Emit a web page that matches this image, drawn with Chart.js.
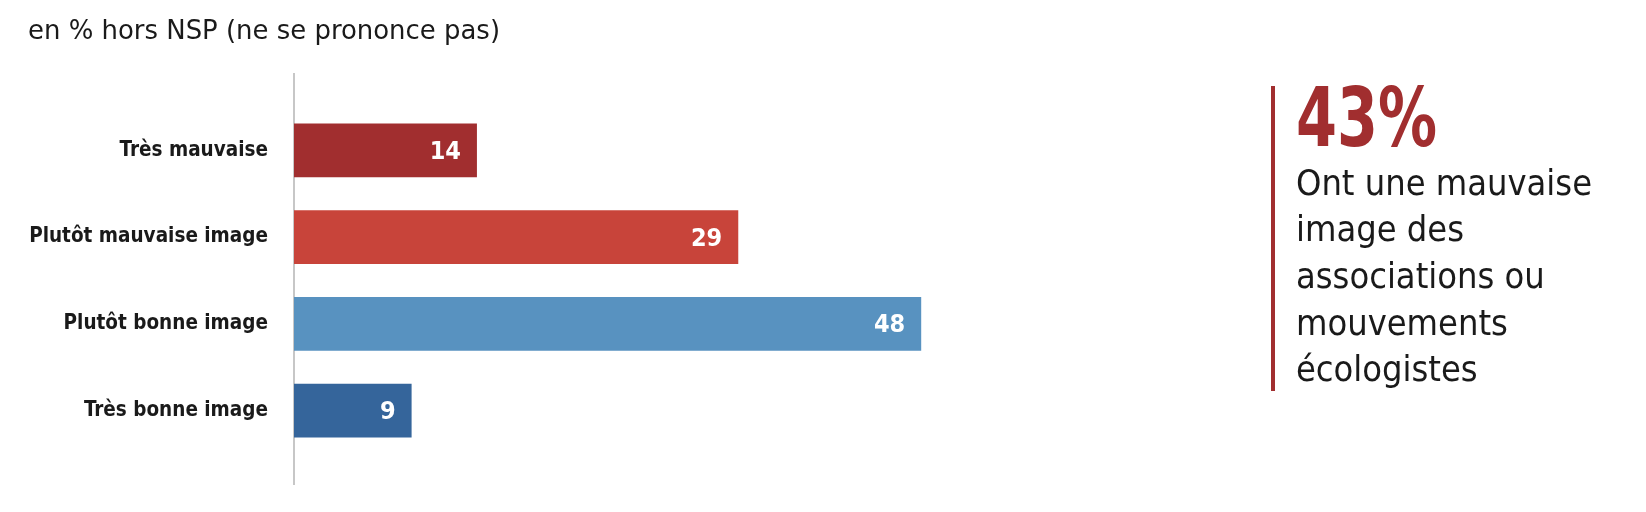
<!DOCTYPE html>
<html>
<head>
<meta charset="utf-8">
<script src="https://cdn.jsdelivr.net/npm/chart.js@4/dist/chart.umd.min.js"></script>
<style>
  html, body { margin: 0; padding: 0; background: #ffffff; }
  body { width: 1646px; height: 512px; position: relative; overflow: hidden; }
  #wrap { position: absolute; left: 0; top: 0; width: 1646px; height: 512px; }
  .fit { position: absolute; white-space: nowrap; transform-origin: 0 0; }
  #title { left: 28px; top: 16px; font: 400 27px "DejaVu Sans Condensed", "DejaVu Sans", sans-serif; line-height: 27px; color: #1a1a1a; }
  #bar { position: absolute; left: 1271px; top: 86px; width: 4px; height: 305px; background: #a12e2f; }
  #big { left: 1296px; top: 77px; font: 700 82px "DejaVu Sans Condensed", "DejaVu Sans", sans-serif; line-height: 82px; color: #a12e2f; }
  #body { left: 1296px; top: 159.5px; font: 400 35px "DejaVu Sans Condensed", "DejaVu Sans", sans-serif; line-height: 46.7px; color: #1a1a1a; }
</style>
</head>
<body>
<div id="wrap"><canvas id="c" width="1646" height="512"></canvas></div>
<div id="title" class="fit">en % hors NSP (ne se prononce pas)</div>
<div id="bar"></div>
<div id="big" class="fit">43%</div>
<div id="body" class="fit">Ont une mauvaise<br>image des<br>associations ou<br>mouvements<br>écologistes</div>
<script>
// ---- data ----
const categories = ["Très mauvaise", "Plutôt mauvaise image", "Plutôt bonne image", "Très bonne image"];
const printedValues = [14, 29, 48, 9];        // numbers written on the bars
const barLengths = [14, 34, 48, 9];           // bar lengths as drawn in the reference
const barColors = ["#a12e2f", "#c8443a", "#5892c0", "#35659b"];

// fit HTML text widths to the reference
function fitWidth(id, target, lineText) {
  const el = document.getElementById(id);
  const cv = document.createElement('canvas').getContext('2d');
  const cs = getComputedStyle(el);
  cv.font = cs.fontWeight + ' ' + cs.fontSize + ' ' + cs.fontFamily;
  const w = cv.measureText(lineText || el.textContent).width;
  el.style.transform = 'scaleX(' + (target / w) + ')';
}
fitWidth('title', 472);
fitWidth('big', 141);
fitWidth('body', 296, 'Ont une mauvaise');

const axisLine = {
  id: 'axisLine',
  beforeDatasetsDraw(chart) {
    const ctx = chart.ctx, x = chart.chartArea.left;
    ctx.save();
    ctx.strokeStyle = '#b4b4b4';
    ctx.lineWidth = 1.5;
    ctx.beginPath();
    ctx.moveTo(x, 73);
    ctx.lineTo(x, 485);
    ctx.stroke();
    ctx.restore();
  }
};

const valueLabels = {
  id: 'valueLabels',
  afterDatasetsDraw(chart) {
    const ctx = chart.ctx;
    const meta = chart.getDatasetMeta(0);
    ctx.save();
    ctx.fillStyle = '#ffffff';
    ctx.font = '700 25px "DejaVu Sans Condensed", sans-serif';
    ctx.textAlign = 'right';
    ctx.textBaseline = 'middle';
    meta.data.forEach((el, i) => {
      ctx.fillText(String(printedValues[i]), el.x - 16, el.y + 2);
    });
    ctx.restore();
  }
};

new Chart(document.getElementById('c'), {
  type: 'bar',
  data: {
    labels: categories,
    datasets: [{
      data: barLengths,
      backgroundColor: barColors,
      borderWidth: 0,
      barPercentage: 0.618,
      categoryPercentage: 1.0
    }]
  },
  options: {
    indexAxis: 'y',
    responsive: false,
    animation: false,
    layout: { padding: { left: 0, right: 568, top: 107, bottom: 58 } },
    plugins: { legend: { display: false }, tooltip: { enabled: false }, title: { display: false } },
    scales: {
      x: { display: false, min: 0, max: 60 },
      y: {
        afterFit(scale) { scale.width = 294; },
        grid: { display: false, drawTicks: false },
        border: { display: false },
        ticks: {
          padding: 26,
          color: '#1a1a1a',
          font: { family: '"DejaVu Sans Condensed", "DejaVu Sans", sans-serif', size: 20.5, weight: '700' }
        }
      }
    }
  },
  plugins: [axisLine, valueLabels]
});
</script>
</body>
</html>
